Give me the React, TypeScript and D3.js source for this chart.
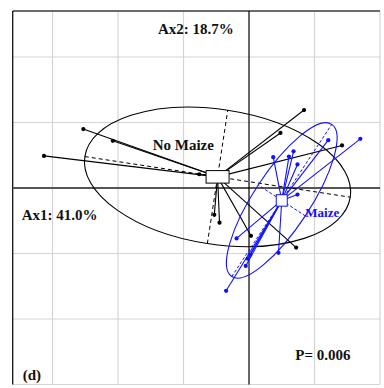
import * as d3 from "d3";
import React from "react";

// ordination scores (grid units)
const noMaizeCentroid = [-0.48, 0.17];
const noMaizePoints = [
  [-2.53, 0.9], [-2.08, 0.72], [-3.13, 0.49], [-0.76, 0.21],
  [0.84, 1.19], [0.48, 0.84], [1.42, 0.65],
  [-0.53, -0.41], [-0.45, -0.53], [0.03, -0.73], [0.72, -0.91],
];
const maizeCentroid = [0.5, -0.19];
const maizePoints = [
  [0.37, 0.47], [0.61, 0.48], [0.68, 0.56], [0.74, 0.36],
  [1.21, 0.73], [1.7, 0.75], [0.74, -0.1],
  [-0.19, -0.77], [-0.05, -1.19], [0.02, -1.02], [-0.02, -1.08],
  [0.45, -0.99], [-0.35, -1.57],
];
// ellipses: [semi-major, semi-minor, angle in degrees]
const noMaizeEllipse = [2.05, 1.03, -8.7];
const maizeEllipse = [1.39, 0.43, 56.7];

const xTicks = [-3, -2, -1, 0, 1, 2];
const yTicks = [2, 1, 0, -1, -2, -3];

const W = 384, H = 388;
const x = d3.scaleLinear().domain([-3.608, 2]).range([12.7, 380]);
const y = d3.scaleLinear().domain([2.702, -3]).range([11, 384.5]);
const k = x(1) - x(0);

const BLUE = "#1010ff";

const Group = ({ centroid, points, ell, color, dash, boxW, boxH }) => {
  const [a, b, ang] = ell;
  const t = (ang * Math.PI) / 180;
  const cx = x(centroid[0]), cy = y(centroid[1]);
  const major = [
    [centroid[0] - a * Math.cos(t), centroid[1] - a * Math.sin(t)],
    [centroid[0] + a * Math.cos(t), centroid[1] + a * Math.sin(t)],
  ];
  const minor = [
    [centroid[0] + b * Math.sin(t), centroid[1] - b * Math.cos(t)],
    [centroid[0] - b * Math.sin(t), centroid[1] + b * Math.cos(t)],
  ];
  return (
    <g>
      <ellipse cx={cx} cy={cy} rx={a * k} ry={b * k}
        transform={`rotate(${-ang},${cx},${cy})`}
        fill="none" stroke={color} strokeWidth={1.1} />
      {[major, minor].map((s, i) => (
        <line key={i} x1={x(s[0][0])} y1={y(s[0][1])} x2={x(s[1][0])} y2={y(s[1][1])}
          stroke={color} strokeWidth={1} strokeDasharray={dash} />
      ))}
      {points.map((p, i) => (
        <line key={"l" + i} x1={cx} y1={cy} x2={x(p[0])} y2={y(p[1])}
          stroke={color} strokeWidth={1.1} />
      ))}
      {points.map((p, i) => (
        <circle key={"c" + i} cx={x(p[0])} cy={y(p[1])} r={2.1} fill={color} />
      ))}
      <rect x={cx - boxW / 2} y={cy - boxH / 2} width={boxW} height={boxH}
        fill="white" stroke={color} strokeWidth={1} />
    </g>
  );
};

export default function App() {
  const font = "'Liberation Serif', 'Times New Roman', serif";
  return (
    <svg width={W} height={H} style={{ position: "absolute", left: 0, top: 0, background: "white" }}>
      <rect width={W} height={H} fill="white" />
      {xTicks.filter((v) => v !== 0).map((v) => (
        <line key={"gx" + v} x1={x(v)} x2={x(v)} y1={y.range()[0]} y2={y.range()[1]} stroke="#d4d4d4" strokeWidth={1.2} />
      ))}
      {yTicks.filter((v) => v !== 0).map((v) => (
        <line key={"gy" + v} x1={x.range()[0]} x2={x.range()[1]} y1={y(v)} y2={y(v)} stroke="#d4d4d4" strokeWidth={1.2} />
      ))}
      {/* frame */}
      <line x1={x.range()[0]} x2={x.range()[1]} y1={y.range()[0]} y2={y.range()[0]} stroke="#6a6a6a" strokeWidth={1.8} />
      <line x1={x.range()[0]} x2={x.range()[0]} y1={y.range()[0]} y2={y.range()[1]} stroke="#111" strokeWidth={1.3} />
      {/* axes through origin */}
      <line x1={x.range()[0]} x2={x.range()[1]} y1={y(0)} y2={y(0)} stroke="#555" strokeWidth={1.8} />
      <line x1={x(0)} x2={x(0)} y1={y.range()[0]} y2={y.range()[1]} stroke="#000" strokeWidth={1.2} />

      <Group centroid={noMaizeCentroid} points={noMaizePoints} ell={noMaizeEllipse}
        color="#000" dash="4,3" boxW={23} boxH={12.5} />
      <Group centroid={maizeCentroid} points={maizePoints} ell={maizeEllipse}
        color={BLUE} dash="3,2" boxW={11} boxH={11.5} />

      <g fontFamily={font} fontWeight="bold" fontSize={15} fill="#111">
        <text x={158} y={33.5}>Ax2: 18.7%</text>
        <text x={21.7} y={220}>Ax1: 41.0%</text>
        <text x={152.7} y={150}>No Maize</text>
        <text x={295.3} y={360}>P= 0.006</text>
        <text x={22.7} y={380}>(d)</text>
        <text x={305.3} y={217.3} fontSize={13} fill={BLUE}>Maize</text>
      </g>
    </svg>
  );
}
